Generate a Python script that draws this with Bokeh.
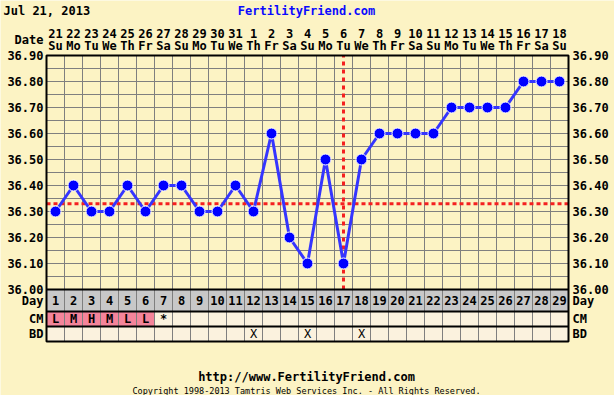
from bokeh.plotting import figure
from bokeh.models import Range1d
from bokeh.embed import file_html
from bokeh.resources import INLINE
from bokeh.core.properties import value

# ---------------- data ----------------
CHART_DATE = "Jul 21, 2013"
CYCLE_DAYS = [1, 2, 3, 4, 5, 6, 7, 8, 9, 10, 11, 12, 13, 14, 15, 16, 17, 18, 19, 20,
              21, 22, 23, 24, 25, 26, 27, 28, 29]
DATES = ["21", "22", "23", "24", "25", "26", "27", "28", "29", "30", "31", "1", "2", "3",
         "4", "5", "6", "7", "8", "9", "10", "11", "12", "13", "14", "15", "16", "17", "18"]
WEEKDAYS = ["Su", "Mo", "Tu", "We", "Th", "Fr", "Sa", "Su", "Mo", "Tu", "We", "Th", "Fr", "Sa",
            "Su", "Mo", "Tu", "We", "Th", "Fr", "Sa", "Su", "Mo", "Tu", "We", "Th", "Fr", "Sa", "Su"]
TEMPS = [36.30, 36.40, 36.30, 36.30, 36.40, 36.30, 36.40, 36.40, 36.30, 36.30, 36.40, 36.30,
         36.60, 36.20, 36.10, 36.50, 36.10, 36.50, 36.60, 36.60, 36.60, 36.60, 36.70, 36.70,
         36.70, 36.70, 36.80, 36.80, 36.80]
CM_DAYS = [1, 2, 3, 4, 5, 6, 7]
CM_CODES = ["L", "M", "H", "M", "L", "L", "*"]
FERTILE_CM = ["L", "M", "H"]
BD_DAYS = [12, 15, 18]
TEMP_TICKS = [36.00, 36.10, 36.20, 36.30, 36.40, 36.50, 36.60, 36.70, 36.80, 36.90]
TEMP_LABELS = ["36.00", "36.10", "36.20", "36.30", "36.40", "36.50", "36.60", "36.70", "36.80", "36.90"]
ROW_NAMES = ["Day", "CM", "BD"]
COVERLINE = 36.33
OVULATION_DAY = 17
SITE = "FertilityFriend.com"
URL = "http://www.FertilityFriend.com"
COPYRIGHT = "Copyright 1998-2013 Tamtris Web Services Inc. - All Rights Reserved."

# ---------------- layout / styling ----------------
W, H = 614, 395
COL_PX = 18                       # pixels per cycle day
DEG_PX = 260                      # pixels per degree
PLOT_LEFT, PLOT_TOP = 46, 55      # pixel position of the plotting area
TABLE_BOTTOM = 341
ROW_BOUNDS = {"BD": (0, 15), "CM": (15, 30), "Day": (30, 52)}   # px above table bottom
BG = "#FCF3C4"
GRID = "#7F7F7F"
FONT = "DejaVu Sans Mono"
RED = "#F42020"

x_lo = 0.5 - PLOT_LEFT / COL_PX
x_hi = x_lo + W / COL_PX
y_hi = TEMP_TICKS[-1] + PLOT_TOP / DEG_PX
y_lo = y_hi - H / DEG_PX

p = figure(width=W, height=H, x_range=Range1d(x_lo, x_hi), y_range=Range1d(y_lo, y_hi),
           output_backend="svg", toolbar_location=None, x_axis_location=None,
           y_axis_location=None, title=None, min_border=0)
p.extra_y_ranges = {"tbl": Range1d(-(H - TABLE_BOTTOM), TABLE_BOTTOM),   # px above table bottom
                    "page": Range1d(H, 0)}                               # px from page top
p.extra_x_ranges = {"page": Range1d(0, W)}
p.background_fill_color = BG
p.border_fill_color = BG
p.outline_line_color = None
p.xgrid.visible = False
p.ygrid.visible = False

first, last = CYCLE_DAYS[0] - 0.5, CYCLE_DAYS[-1] + 0.5
col_edges = [d - 0.5 for d in CYCLE_DAYS] + [last]
half_steps = [round(TEMP_TICKS[0] + 0.05 * i, 2) for i in range(2 * (len(TEMP_TICKS) - 1) + 1)]

# grid of the temperature area
p.segment(x0=col_edges, x1=col_edges, y0=TEMP_TICKS[0], y1=TEMP_TICKS[-1],
          line_color=GRID, line_width=1)
p.segment(x0=first, x1=last, y0=half_steps, y1=half_steps, line_color=GRID, line_width=1)

# table rows
lefts = [d - 0.5 for d in CYCLE_DAYS]
rights = [d + 0.5 for d in CYCLE_DAYS]
b, t = ROW_BOUNDS["Day"]
p.quad(left=lefts, right=rights, bottom=b, top=t, y_range_name="tbl",
       fill_color="#C8C8C8", line_color=GRID, line_width=1)
cm_lookup = dict(zip(CM_DAYS, CM_CODES))
cm_colors = ["#F4849A" if cm_lookup.get(d, "") in FERTILE_CM else "#FBF2DE" for d in CYCLE_DAYS]
b, t = ROW_BOUNDS["CM"]
p.quad(left=lefts, right=rights, bottom=b, top=t, y_range_name="tbl",
       fill_color=cm_colors, line_color=GRID, line_width=1)
b, t = ROW_BOUNDS["BD"]
p.quad(left=lefts, right=rights, bottom=b, top=t, y_range_name="tbl",
       fill_color="#FBF2DE", line_color=GRID, line_width=1)

# coverline and ovulation line
p.segment(x0=[first], x1=[last], y0=[COVERLINE], y1=[COVERLINE],
          line_color=RED, line_width=3, line_dash="4 3")
p.segment(x0=[OVULATION_DAY], x1=[OVULATION_DAY], y0=[TEMP_TICKS[0]], y1=[TEMP_TICKS[-1]],
          line_color=RED, line_width=3, line_dash="4 4")

# temperatures
p.line(CYCLE_DAYS, TEMPS, line_color="#3535FF", line_width=3)
p.scatter(CYCLE_DAYS, TEMPS, size=11, fill_color="#0000FF", line_color="#FFFFFF", line_width=1)

# black borders: outer box and row separators
box_top = ROW_BOUNDS["Day"][1] + (TEMP_TICKS[-1] - TEMP_TICKS[0]) * DEG_PX
p.quad(left=[first], right=[last], bottom=[0], top=[box_top], y_range_name="tbl",
       fill_color=None, line_color="black", line_width=2)
sep_y = [ROW_BOUNDS["Day"][1], ROW_BOUNDS["CM"][1], ROW_BOUNDS["BD"][1]]
p.segment(x0=first, x1=last, y0=sep_y, y1=sep_y, y_range_name="tbl",
          line_color="black", line_width=2)

# ---------------- texts ----------------
base = dict(text_font=value(FONT), text_font_style="bold", text_font_size="12px",
            text_baseline="middle", text_color="black")


def txt(**kw):
    d = dict(base)
    d.update(kw)
    return d


# cells
p.text(x=CYCLE_DAYS, y=sum(ROW_BOUNDS["Day"]) / 2.0, text=[str(d) for d in CYCLE_DAYS],
       **txt(text_align="center", y_range_name="tbl"))
p.text(x=CM_DAYS, y=sum(ROW_BOUNDS["CM"]) / 2.0, text=CM_CODES,
       **txt(text_align="center", y_range_name="tbl"))
p.text(x=BD_DAYS, y=sum(ROW_BOUNDS["BD"]) / 2.0, text=["X"] * len(BD_DAYS),
       **txt(text_align="center", y_range_name="tbl", text_font_style="normal"))

# temperature scale, left and right
LEFT_LBL_X, RIGHT_LBL_X = PLOT_LEFT - 3, PLOT_LEFT + COL_PX * len(CYCLE_DAYS) + 4
p.text(x=LEFT_LBL_X, y=TEMP_TICKS, text=TEMP_LABELS, **txt(text_align="right", x_range_name="page"))
p.text(x=RIGHT_LBL_X, y=TEMP_TICKS, text=TEMP_LABELS, **txt(text_align="left", x_range_name="page"))
row_centers = [sum(ROW_BOUNDS[n]) / 2.0 for n in ROW_NAMES]
p.text(x=LEFT_LBL_X, y=row_centers, text=ROW_NAMES,
       **txt(text_align="right", x_range_name="page", y_range_name="tbl"))
p.text(x=RIGHT_LBL_X, y=row_centers, text=ROW_NAMES,
       **txt(text_align="left", x_range_name="page", y_range_name="tbl"))

# calendar header
p.text(x=CYCLE_DAYS, y=33, text=DATES, **txt(text_align="center", y_range_name="page"))
p.text(x=CYCLE_DAYS, y=45.5, text=WEEKDAYS, **txt(text_align="center", y_range_name="page"))
p.text(x=[LEFT_LBL_X], y=[39], text=["Date"],
       **txt(text_align="right", x_range_name="page", y_range_name="page"))

# page titles
p.text(x=[3], y=[10.5], text=[CHART_DATE],
       **txt(text_align="left", x_range_name="page", y_range_name="page"))
p.text(x=[306], y=[10.5], text=[SITE],
       **txt(text_align="center", x_range_name="page", y_range_name="page", text_color="#0A0AFF"))
p.text(x=[306], y=[376], text=[URL],
       **txt(text_align="center", x_range_name="page", y_range_name="page"))
p.text(x=[306], y=[390], text=[COPYRIGHT],
       **txt(text_align="center", x_range_name="page", y_range_name="page",
             text_font_style="normal", text_font_size="8.5px"))

open("out.html", "w").write(file_html(p, INLINE))
